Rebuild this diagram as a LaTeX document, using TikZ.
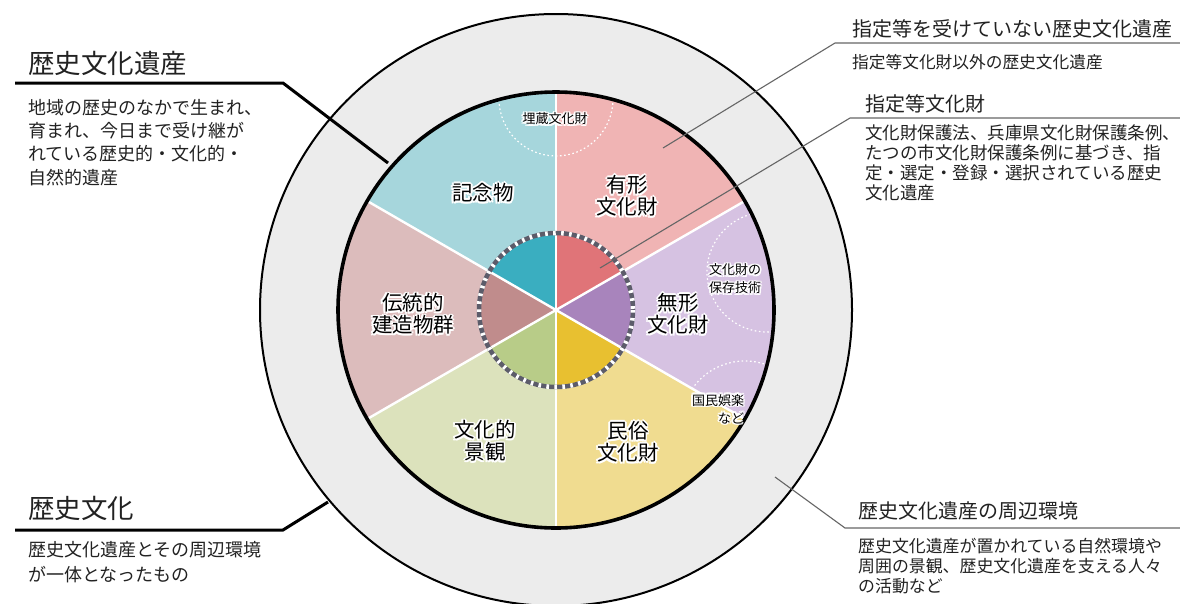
\documentclass[tikz,border=0pt]{standalone}
\usepackage{fontspec}
\setmainfont{Noto Sans CJK JP}
\usetikzlibrary{calc}
\definecolor{ringgray}{HTML}{ECECEC}
\definecolor{tealL}{HTML}{A6D6DC}
\definecolor{pinkL}{HTML}{F0B4B4}
\definecolor{lavL}{HTML}{D6C2E2}
\definecolor{yelL}{HTML}{F0DC90}
\definecolor{greenL}{HTML}{DCE2BC}
\definecolor{roseL}{HTML}{DCBCBC}
\definecolor{tealD}{HTML}{3AAEC0}
\definecolor{pinkD}{HTML}{E07478}
\definecolor{lavD}{HTML}{A884BC}
\definecolor{yelD}{HTML}{E8C030}
\definecolor{greenD}{HTML}{B8CC88}
\definecolor{roseD}{HTML}{C08C8C}
\definecolor{dashgray}{HTML}{5C5C6A}
\definecolor{txt}{HTML}{222222}
\definecolor{ptr}{HTML}{666666}
\tikzset{
  lbl/.style={font=\fontsize{20.5}{22}\selectfont, align=center, inner sep=0pt},
  lbls/.style={font=\fontsize{13}{18}\selectfont, align=center, inner sep=0pt},
  lblr/.style={font=\fontsize{13}{18}\selectfont, align=right, inner sep=0pt},
  bigtitle/.style={font=\fontsize{26.5}{30}\selectfont, anchor=west, inner sep=0pt, text=txt},
  rtitle/.style={font=\fontsize{20}{24}\selectfont, anchor=west, inner sep=0pt, text=txt},
  body/.style={align=left, anchor=north west, inner sep=0pt, text=txt},
  thickptr/.style={line width=3pt, black},
  thinptr/.style={line width=1.1pt, ptr},
  dotarc/.style={white, line width=1.2pt, dash pattern=on 1.6pt off 2.6pt},
}
\newcommand\hlabel[4]{%
  \foreach \hx/\hy in {1.8/0,-1.8/0,0/1.8,0/-1.8,1.3/1.3,1.3/-1.3,-1.3/1.3,-1.3/-1.3}{%
    \node[#3,text=white] at ($(#2)+(\hx,\hy)$) {#4};}
  \node[#3,text=black] (#1) at (#2) {#4};}
\begin{document}
\begin{tikzpicture}[x=1pt,y=-1pt]
\useasboundingbox (0,0) rectangle (1180,603);
\fill[white] (0,0) rectangle (1180,603);
\coordinate (C) at (556,310);
% outer ring
\filldraw[fill=ringgray, draw=black, line width=2pt] (C) circle[radius=296];
% sectors
\fill[pinkL]  (C) -- ($(C)+(270:218)$) arc[start angle=270, end angle=330, radius=218] -- cycle;
\fill[tealL]  (C) -- ($(C)+(210:218)$) arc[start angle=210, end angle=270, radius=218] -- cycle;
\fill[roseL]  (C) -- ($(C)+(150:218)$) arc[start angle=150, end angle=210, radius=218] -- cycle;
\fill[greenL] (C) -- ($(C)+(90:218)$) arc[start angle=90, end angle=150, radius=218] -- cycle;
\fill[yelL]   (C) -- ($(C)+(30:218)$) arc[start angle=30, end angle=90, radius=218] -- cycle;
\fill[lavL]   (C) -- ($(C)+(-30:218)$) arc[start angle=-30, end angle=30, radius=218] -- cycle;
% dotted sub-areas
\begin{scope}
  \clip (C) circle[radius=216];
  \draw[dotarc] (556,99) circle[radius=57];
\end{scope}
\begin{scope}
  \clip (C) -- ($(C)+(-30:216)$) arc[start angle=-30, end angle=30, radius=216] -- cycle;
  \draw[dotarc] (767,272) circle[radius=60];
  \draw[dotarc] (745,425) circle[radius=64];
\end{scope}
% inner core sectors
\fill[pinkD]  (C) -- ($(C)+(270:77)$) arc[start angle=270, end angle=330, radius=77] -- cycle;
\fill[tealD]  (C) -- ($(C)+(210:77)$) arc[start angle=210, end angle=270, radius=77] -- cycle;
\fill[roseD]  (C) -- ($(C)+(150:77)$) arc[start angle=150, end angle=210, radius=77] -- cycle;
\fill[greenD] (C) -- ($(C)+(90:77)$) arc[start angle=90, end angle=150, radius=77] -- cycle;
\fill[yelD]   (C) -- ($(C)+(30:77)$) arc[start angle=30, end angle=90, radius=77] -- cycle;
\fill[lavD]   (C) -- ($(C)+(-30:77)$) arc[start angle=-30, end angle=30, radius=77] -- cycle;
% spokes
\foreach \a in {30,90,150,210,270,330}{\draw[white, line width=2.4pt] (C) -- ($(C)+(\a:217)$);}
% dashed core circle
\draw[dashgray, line width=4.5pt] (C) circle[radius=77];
\draw[white, line width=4.5pt, dash pattern=on 2.6pt off 5.4pt] (C) circle[radius=77];
% inner circle outline
\draw[black, line width=3.6pt] (C) circle[radius=218];
% sector labels
\hlabel{kinen}{483,193}{lbl}{記念物}
\hlabel{yukei}{627,196}{lbl}{有形\\文化財}
\hlabel{dento}{413,314}{lbl}{伝統的\\建造物群}
\hlabel{mukei}{678,314}{lbl}{無形\\文化財}
\hlabel{keikan}{485,441}{lbl}{文化的\\景観}
\hlabel{minzoku}{628,442}{lbl}{民俗\\文化財}
\hlabel{maizo}{555,119}{lbls}{埋蔵文化財}
\hlabel{hozon}{735,279}{lbls}{文化財の\\保存技術}
\hlabel{goraku}{718,409}{lblr}{国民娯楽\\など}
% left texts
\node[bigtitle] (t1) at (28,63) {歴史文化遺産};
\node[body, font=\fontsize{18}{23.3}\selectfont] (b1) at (28,99) {地域の歴史のなかで生まれ、\\育まれ、今日まで受け継が\\れている歴史的・文化的・\\自然的遺産};
\node[bigtitle] (t2) at (28,508) {歴史文化};
\node[body, font=\fontsize{18}{25}\selectfont] (b2) at (28,541) {歴史文化遺産とその周辺環境\\が一体となったもの};
% right texts
\node[rtitle] (t3) at (852,29) {指定等を受けていない歴史文化遺産};
\node[anchor=west, inner sep=0pt, text=txt, font=\fontsize{16.7}{20}\selectfont] (b3) at (852,62) {指定等文化財以外の歴史文化遺産};
\node[rtitle] (t4) at (865,104) {指定等文化財};
\node[body, font=\fontsize{17.5}{20}\selectfont] (b4) at (865,124.5) {文化財保護法、兵庫県文化財保護条例、\\たつの市文化財保護条例に基づき、指\\定・選定・登録・選択されている歴史\\文化遺産};
\node[rtitle] (t5) at (858,511) {歴史文化遺産の周辺環境};
\node[body, font=\fontsize{16.9}{20}\selectfont] (b5) at (858,537.5) {歴史文化遺産が置かれている自然環境や\\周囲の景観、歴史文化遺産を支える人々\\の活動など};
% pointer coordinates
\coordinate (p1a) at (15,83);   \coordinate (p1b) at (283,83);  \coordinate (p1c) at (388,163);
\coordinate (p2a) at (15,530);  \coordinate (p2b) at (283,530); \coordinate (p2c) at (328,502);
\coordinate (p3a) at (1180,43); \coordinate (p3b) at (835,43);  \coordinate (p3c) at (663,148);
\coordinate (p4a) at (1180,118);\coordinate (p4b) at (850,118); \coordinate (p4c) at (600,268);
\coordinate (p5a) at (1180,528);\coordinate (p5b) at (845,528); \coordinate (p5c) at (775,477);
\draw[thickptr] (p1a) -- (p1b) -- (p1c);
\draw[thickptr] (p2a) -- (p2b) -- (p2c);
\draw[thinptr] (p3a) -- (p3b) -- (p3c);
\draw[thinptr] (p4a) -- (p4b) -- (p4c);
\draw[thinptr] (p5a) -- (p5b) -- (p5c);
\end{tikzpicture}
\end{document}
